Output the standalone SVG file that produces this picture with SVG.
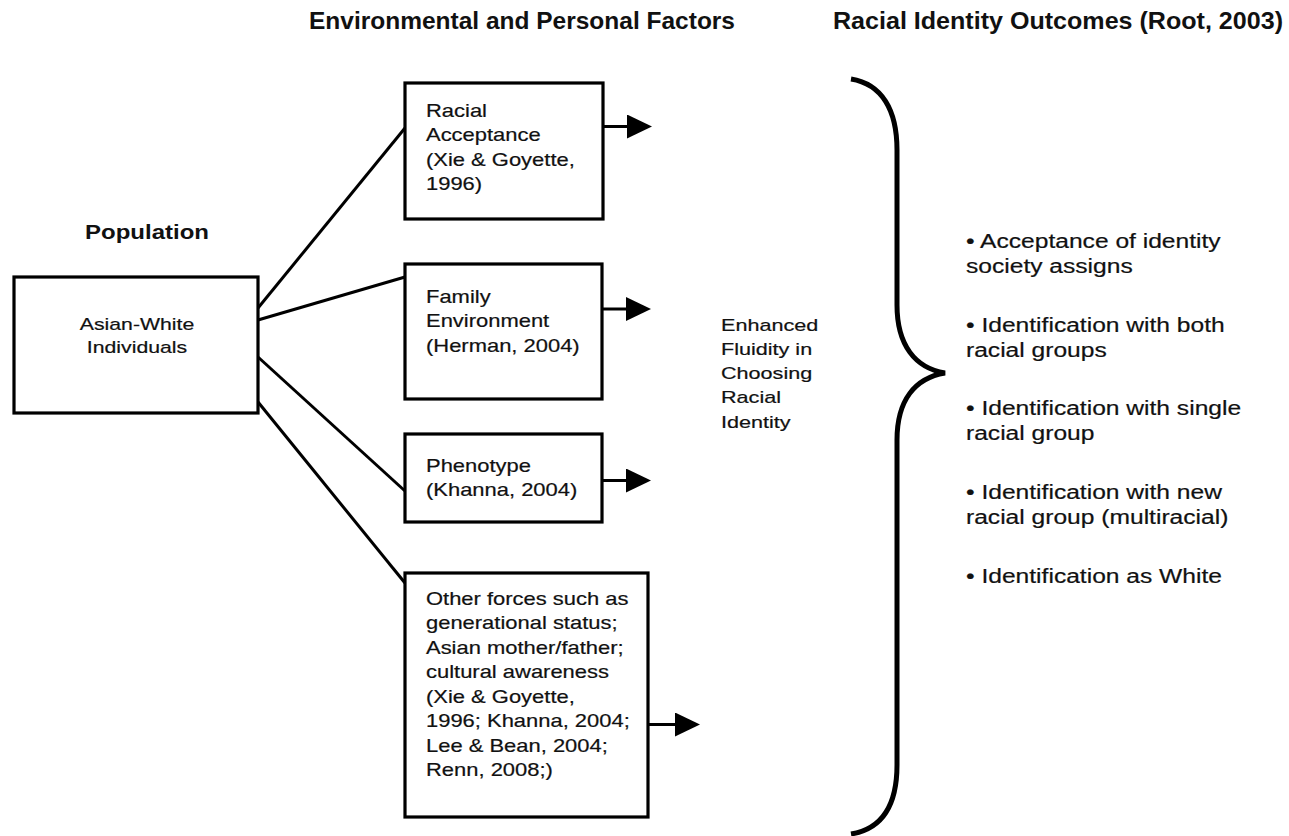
<svg xmlns="http://www.w3.org/2000/svg" width="1289" height="836" viewBox="0 0 1289 836">
<style>
.box{fill:#fff;stroke:#000;stroke-width:3.2}
.ln{fill:none;stroke:#000;stroke-width:3}
.hd{font-family:"Liberation Sans",Arial,sans-serif;font-weight:bold;font-size:24px;fill:#111}
.t{font-family:"Liberation Sans",Arial,sans-serif;font-size:18px;fill:#111;stroke:#111;stroke-width:0.2}
.tr{font-family:"Liberation Sans",Arial,sans-serif;font-size:20px;fill:#111;stroke:#111;stroke-width:0.2}
</style>
<defs>
<marker id="ah" markerWidth="25" markerHeight="24" refX="0" refY="12" orient="auto" markerUnits="userSpaceOnUse">
<path d="M0,0 L25,12 L0,24 z" fill="#000"/>
</marker>
</defs>
<text class="hd" x="309" y="29" textLength="426" lengthAdjust="spacingAndGlyphs">Environmental and Personal Factors</text>
<text class="hd" x="833" y="29" textLength="450" lengthAdjust="spacingAndGlyphs">Racial Identity Outcomes (Root, 2003)</text>
<g id="connectors">
<line class="ln" x1="258" y1="308" x2="405" y2="128"/>
<line class="ln" x1="258" y1="320" x2="405" y2="277"/>
<line class="ln" x1="258" y1="357" x2="405" y2="491"/>
<line class="ln" x1="258" y1="402" x2="405" y2="583"/>
<line class="ln" x1="603" y1="126.5" x2="627" y2="126.5" marker-end="url(#ah)"/>
<line class="ln" x1="602" y1="309" x2="626" y2="309" marker-end="url(#ah)"/>
<line class="ln" x1="602" y1="480.5" x2="626" y2="480.5" marker-end="url(#ah)"/>
<line class="ln" x1="648" y1="724.5" x2="675" y2="724.5" marker-end="url(#ah)"/>
</g>
<g id="population">
<text class="hd" transform="translate(147 239) scale(1.2 1)" text-anchor="middle" style="font-size:20px">Population</text>
<rect class="box" x="14" y="277" width="244" height="136"/>
<text class="t" transform="translate(137 0) scale(1.25 1)" text-anchor="middle" style="font-size:17px"><tspan x="0" y="330">Asian-White</tspan><tspan x="0" y="353">Individuals</tspan></text>
</g>
<g id="racial-acceptance">
<rect class="box" x="405" y="83" width="198" height="136"/>
<text class="t" transform="translate(426 0) scale(1.22 1)"><tspan x="0" y="117">Racial</tspan><tspan x="0" y="141.5">Acceptance</tspan><tspan x="0" y="166">(Xie &amp; Goyette,</tspan><tspan x="0" y="190.5">1996)</tspan></text>
</g>
<g id="family-environment">
<rect class="box" x="405" y="264" width="197" height="135"/>
<text class="t" transform="translate(426 0) scale(1.22 1)"><tspan x="0" y="303">Family</tspan><tspan x="0" y="327.5">Environment</tspan><tspan x="0" y="352">(Herman, 2004)</tspan></text>
</g>
<g id="phenotype">
<rect class="box" x="405" y="434" width="197" height="88"/>
<text class="t" transform="translate(426 0) scale(1.22 1)"><tspan x="0" y="472">Phenotype</tspan><tspan x="0" y="496.5">(Khanna, 2004)</tspan></text>
</g>
<g id="other-forces">
<rect class="box" x="405" y="573" width="243" height="244"/>
<text class="t" transform="translate(426 0) scale(1.22 1)"><tspan x="0" y="605">Other forces such as</tspan><tspan x="0" y="629.5">generational status;</tspan><tspan x="0" y="654">Asian mother/father;</tspan><tspan x="0" y="678.5">cultural awareness</tspan><tspan x="0" y="703">(Xie &amp; Goyette,</tspan><tspan x="0" y="727.5">1996; Khanna, 2004;</tspan><tspan x="0" y="752">Lee &amp; Bean, 2004;</tspan><tspan x="0" y="776.5">Renn, 2008;)</tspan></text>
</g>
<g id="enhanced-fluidity">
<text class="t" transform="translate(721 0) scale(1.27 1)" style="font-size:17px"><tspan x="0" y="331">Enhanced</tspan><tspan x="0" y="355">Fluidity in</tspan><tspan x="0" y="379.5">Choosing</tspan><tspan x="0" y="403.5">Racial</tspan><tspan x="0" y="428">Identity</tspan></text>
</g>
<g id="brace">
<path class="ln" style="stroke-width:5" d="M851,79 C882,84 897,110 897,150 L897,305 C897,345 915,368 945,373 C915,378 897,400 897,440 L897,765 C897,805 882,829 851,834"/>
</g>
<g id="outcomes">
<text class="tr" transform="translate(966 0) scale(1.23 1)"><tspan x="0" y="248">• Acceptance of identity</tspan><tspan x="0" y="273">society assigns</tspan><tspan x="0" y="332">• Identification with both</tspan><tspan x="0" y="357">racial groups</tspan><tspan x="0" y="415">• Identification with single</tspan><tspan x="0" y="440">racial group</tspan><tspan x="0" y="499">• Identification with new</tspan><tspan x="0" y="524">racial group (multiracial)</tspan><tspan x="0" y="583">• Identification as White</tspan></text>
</g>
</svg>
